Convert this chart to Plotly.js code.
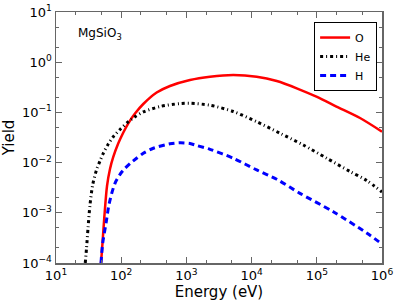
<!DOCTYPE html>
<html><head><meta charset="utf-8">
<script src="https://cdn.plot.ly/plotly-3.0.1.min.js"></script>
<style>html,body{margin:0;padding:0;background:#fff}#c{width:399px;height:306px}</style>
</head><body><div id="c"></div>
<script>
const energyO = [49.0, 50.8, 55.1, 60.6, 67.3, 75.6, 90.3, 107.8, 128.5, 162.8, 218, 350, 560, 1135, 2300, 5240, 11970, 24300, 49200, 100700, 200000, 460000, 1000000];
const yieldO  = [1e-4, 1.82e-4, 8.2e-4, 3.42e-3, 7.46e-3, 0.01294, 0.0242, 0.0398, 0.0607, 0.0951, 0.147, 0.249, 0.336, 0.442, 0.514, 0.556, 0.514, 0.421, 0.302, 0.203, 0.131, 0.0773, 0.0413];

const energyHe = [28.1, 29.4, 31.0, 33.2, 36.5, 41.8, 47.3, 53.1, 63.4, 75.6, 95.9, 128.5, 162.8, 218, 394, 798, 1135, 2300, 5240, 11970, 27300, 62100, 142000, 323000, 582000, 1000000];
const yieldHe  = [1e-4, 1.99e-4, 4.98e-4, 1.43e-3, 3.58e-3, 7.13e-3, 0.01076, 0.01531, 0.0235, 0.0328, 0.0456, 0.0653, 0.0821, 0.102, 0.131, 0.150, 0.152, 0.139, 0.104, 0.0653, 0.0384, 0.0224, 0.0122, 6.65e-3, 4.40e-3, 2.6e-3];

const energyH = [49.0, 52.0, 58.5, 65.6, 80.3, 101.9, 114.4, 136.4, 162.8, 218, 311, 560, 798, 1135, 1440, 2300, 5240, 11970, 24300, 55200, 179000, 582000, 1000000];
const yieldH  = [1e-4, 2.47e-4, 6.18e-4, 1.55e-3, 3.87e-3, 6.50e-3, 7.70e-3, 9.59e-3, 0.01153, 0.0153, 0.0193, 0.0237, 0.0248, 0.0240, 0.0219, 0.0184, 0.0122, 7.13e-3, 4.65e-3, 2.44e-3, 1.05e-3, 3.96e-4, 2.39e-4];

const seriesNames = ['O', 'He', 'H'];
const xTickVals = [1e1, 1e2, 1e3, 1e4, 1e5, 1e6];
const xTickText = ['10<sup>1</sup>','10<sup>2</sup>','10<sup>3</sup>','10<sup>4</sup>','10<sup>5</sup>','10<sup>6</sup>'];
const yTickVals = [1e-4, 1e-3, 1e-2, 1e-1, 1e0, 1e1];
const yTickText = ['10<sup>−4</sup>','10<sup>−3</sup>','10<sup>−2</sup>','10<sup>−1</sup>','10<sup>0</sup>','10<sup>1</sup>'];

const traces = [
  {x: energyO, y: yieldO, name: seriesNames[0], mode: 'lines', line: {color: '#ff0000', width: 2.5, shape: 'spline', smoothing: 0.8}},
  {x: energyHe, y: yieldHe, name: seriesNames[1], mode: 'lines', line: {color: '#000000', width: 3, dash: '3px,3px,1px,3px', shape: 'spline', smoothing: 0.8}},
  {x: energyH, y: yieldH, name: seriesNames[2], mode: 'lines', line: {color: '#0000ff', width: 3, dash: '6px,4px', shape: 'spline', smoothing: 0.8}}
];

const axisCommon = {
  type: 'log', showgrid: false, zeroline: false, showline: true, linecolor: '#666', linewidth: 1.5,
  mirror: 'ticks', ticks: 'inside', ticklen: 6, tickcolor: '#666', tickwidth: 1,
  tickfont: {family: 'DejaVu Sans', size: 13, color: '#000'},
  minor: {ticks: 'inside', ticklen: 3, tickcolor: '#666', showgrid: false}
};

const layout = {
  width: 399, height: 306,
  margin: {l: 56, r: 17, t: 12, b: 43},
  paper_bgcolor: '#fff', plot_bgcolor: '#fff',
  font: {family: 'DejaVu Sans', color: '#000'},
  xaxis: Object.assign({}, axisCommon, {
    range: [1, 6], tickmode: 'array', tickvals: xTickVals, ticktext: xTickText,
    title: {text: 'Energy (eV)', font: {size: 15, family: 'DejaVu Sans'}, standoff: 4}
  }),
  yaxis: Object.assign({}, axisCommon, {
    range: [-4, 1], tickmode: 'array', tickvals: yTickVals, ticktext: yTickText,
    title: {text: 'Yield', font: {size: 15, family: 'DejaVu Sans'}, standoff: 6}
  }),
  showlegend: true,
  legend: {x: 0.985, y: 0.96, xanchor: 'right', yanchor: 'top', bgcolor: '#fff',
    bordercolor: '#000', borderwidth: 1, font: {size: 11, family: 'DejaVu Sans'},
    tracegroupgap: 0, itemwidth: 30},
  annotations: [{
    text: 'MgSiO<sub>3</sub>', xref: 'paper', yref: 'paper', x: 0.061, y: 0.914,
    xanchor: 'left', yanchor: 'middle', showarrow: false,
    font: {size: 12, family: 'DejaVu Sans', color: '#000'}
  }]
};

Plotly.newPlot('c', traces, layout, {displayModeBar: false, staticPlot: true});
</script>
</body></html>
